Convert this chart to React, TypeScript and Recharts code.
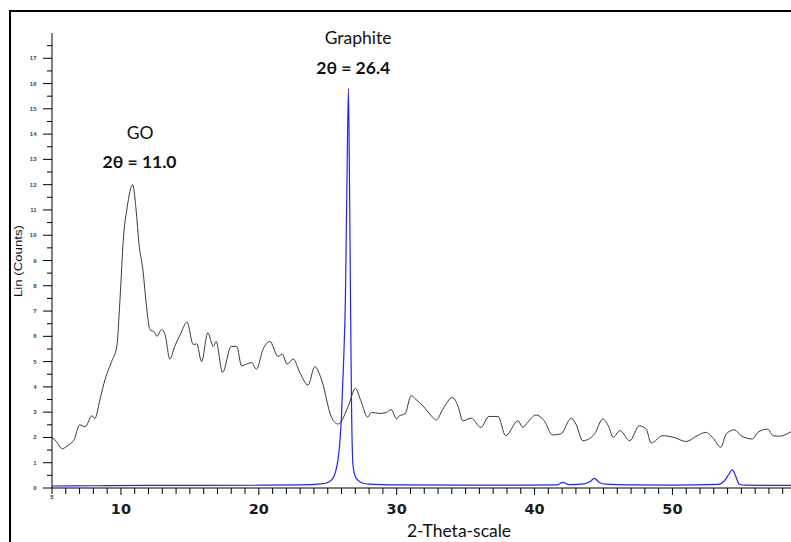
import React from 'react';
import { LineChart, Line, XAxis, YAxis, ReferenceDot } from 'recharts';

// GO sample (dark trace)
const goTheta = [
  5.0, 5.3, 5.75, 6.0, 6.3, 6.6, 7.0, 7.4, 7.9, 8.1, 8.5, 8.85, 9.3, 9.7, 9.93, 10.17, 10.45, 10.85,
  11.1, 11.3, 11.6, 11.85, 12.1, 12.46, 12.6, 12.95, 13.2, 13.55, 13.9, 14.3, 14.8, 15.24, 15.5,
  15.85, 16.3, 16.7, 16.9, 17.37, 18.0, 18.4, 18.75, 19.1, 19.47, 19.83, 20.3, 20.8, 21.4, 21.7,
  22.05, 22.5, 22.97, 23.57, 24.06, 24.54, 25.27, 25.75, 26.5, 27.0, 27.4, 27.9, 28.15, 28.8,
  29.25, 29.6, 30.0, 30.2, 30.6, 31.05, 31.4, 31.9, 32.4, 32.87, 33.35, 34.04, 34.44, 34.8, 35.4,
  36.1, 36.7, 37.35, 37.9, 38.8, 39.15, 39.5, 40.1, 40.7, 41.3, 41.9, 42.67, 43.0, 43.5, 44.35,
  44.95, 45.4, 45.7, 46.2, 46.9, 47.6, 48.1, 48.45, 49.3, 50.1, 51.0, 51.8, 52.4, 53.0, 53.5,
  53.9, 54.5, 54.98, 55.8, 56.2, 56.9, 57.3, 57.75, 58.6,
];
const goCounts = [
  2.0, 1.85, 1.55, 1.62, 1.74, 1.9, 2.5, 2.42, 2.86, 2.75, 3.55, 4.3, 4.97, 5.6, 7.45, 9.8, 11.1, 12.0,
  11.0, 9.7, 8.6, 7.2, 6.27, 6.15, 6.0, 6.27, 6.07, 5.1, 5.6, 6.07, 6.56, 5.68, 5.7,
  5.0, 6.14, 5.6, 5.8, 4.57, 5.6, 5.6, 4.83, 4.9, 4.96, 4.7, 5.48, 5.8, 5.2, 5.3,
  4.9, 5.1, 4.57, 4.07, 4.8, 4.3, 2.8, 2.53, 3.25, 3.94, 3.45, 2.8, 2.99, 2.95,
  2.99, 3.1, 2.73, 2.86, 2.93, 3.65, 3.5, 3.25, 2.93, 2.69, 3.12, 3.58, 3.25, 2.66, 2.76,
  2.4, 2.83, 2.83, 2.07, 2.66, 2.4, 2.6, 2.89, 2.66, 2.1, 2.14, 2.76, 2.53, 1.87, 2.14,
  2.73, 2.4, 2.0, 2.27, 1.87, 2.46, 2.33, 1.78, 2.07, 2.0, 1.84, 2.07, 2.2, 1.94, 1.61,
  2.14, 2.3, 2.07, 1.94, 2.2, 2.33, 2.07, 2.05, 2.23,
];

// Graphite sample (blue trace)
const graphiteTheta = [
  5, 8, 12, 16, 20, 23, 24.5, 25.0, 25.36, 25.75, 26.0, 26.15, 26.28, 26.38, 26.5, 26.58, 26.65,
  26.72, 26.83, 27.0, 27.2, 27.5, 28, 30, 35, 41.6, 42.05, 42.5, 43.6, 44.0, 44.35, 44.7, 45.2,
  47, 50, 53.3, 53.8, 54.1, 54.35, 54.6, 54.85, 55.3, 58.6,
];
const graphiteCounts = [
  0.08, 0.09, 0.1, 0.1, 0.11, 0.12, 0.16, 0.22, 0.37, 1.15, 2.9, 5.0, 7.5, 11.5, 15.8, 12, 7.5,
  3.5, 0.9, 0.45, 0.3, 0.2, 0.15, 0.12, 0.11, 0.12, 0.22, 0.13, 0.16, 0.25, 0.38, 0.22, 0.15,
  0.12, 0.11, 0.14, 0.3, 0.55, 0.72, 0.45, 0.15, 0.11, 0.1,
];

const xTicks = [
  5, 6, 7, 8, 9, 10, 11, 12, 13, 14, 15, 16, 17, 18, 19, 20, 21, 22, 23, 24, 25, 26, 27, 28, 29, 30,
  31, 32, 33, 34, 35, 36, 37, 38, 39, 40, 41, 42, 43, 44, 45, 46, 47, 48, 49, 50, 51, 52, 53, 54, 55,
  56, 57, 58,
];
const xLabels = [10, 20, 30, 40, 50];
const yTicks = [
  0, 0.5, 1, 1.5, 2, 2.5, 3, 3.5, 4, 4.5, 5, 5.5, 6, 6.5, 7, 7.5, 8, 8.5, 9, 9.5, 10, 10.5, 11, 11.5,
  12, 12.5, 13, 13.5, 14, 14.5, 15, 15.5, 16, 16.5, 17, 17.5,
];

const annotations = [
  { x: 11.4, y: 14.05, text: 'GO', bold: false },
  { x: 11.35, y: 12.9, text: '2θ = 11.0', bold: true },
  { x: 27.2, y: 17.8, text: 'Graphite', bold: false },
  { x: 26.85, y: 16.62, text: '2θ = 26.4', bold: true },
];

const goData = goTheta.map((x, i) => ({ x, v: goCounts[i] }));
const graphiteData = graphiteTheta.map((x, i) => ({ x, v: graphiteCounts[i] }));

const YTick = (props: any) => {
  const { x, y, payload } = props;
  const major = Number.isInteger(payload.value);
  return (
    <g>
      <line x1={major ? x : x + 4} x2={x + 9} y1={y} y2={y} stroke="#000" strokeWidth={1} />
      {major && (
        <text x={x - 6.5} y={y + 2} textAnchor="end" fontSize={6} fontWeight="bold" fill="#444" fontFamily="Arial">
          {payload.value}
        </text>
      )}
    </g>
  );
};

const XTick = (props: any) => {
  const { x, y, payload } = props;
  const v = payload.value;
  const big = xLabels.includes(v);
  return (
    <g>
      <line x1={x} x2={x} y1={y - 6} y2={big ? y + 1 : y} stroke="#000" strokeWidth={1} />
      {big && (
        <text x={x} y={y + 20} textAnchor="middle" fontSize={14.5} fontWeight="bold" fill="#1a1a1a" fontFamily="'DejaVu Sans'">
          {v}
        </text>
      )}
      {v === 5 && (
        <text x={x} y={y + 5} textAnchor="middle" fontSize={6} fontWeight="bold" fill="#333" fontFamily="Arial">
          5
        </text>
      )}
    </g>
  );
};

const App = () => {
  return (
    <div style={{ position: 'absolute', left: 0, top: 0, width: 791, height: 542, background: '#fff', overflow: 'hidden' }}>
      <div
        style={{
          position: 'absolute', left: 9, top: 10, width: 782, height: 532,
          borderTop: '2px solid #000', borderLeft: '2px solid #000', boxSizing: 'border-box',
        }}
      />
      <div style={{ position: 'absolute', left: 0, top: 0 }}>
        <LineChart width={791} height={542} margin={{ top: 33, right: 0, bottom: 0, left: 0 }}>
          <XAxis
            dataKey="x"
            type="number"
            domain={[5, 58.6]}
            ticks={xTicks}
            interval={0}
            allowDataOverflow
            height={54}
            tickSize={6}
            tickMargin={0}
            tickLine={false}
            tick={<XTick />}
            axisLine={{ stroke: '#000' }}
            label={() => (
              <text x={459} y={537} textAnchor="middle" fontSize={17.5} fill="#111" fontFamily="Lato">
                2-Theta-scale
              </text>
            )}
          />
          <YAxis
            type="number"
            domain={[0, 18]}
            ticks={yTicks}
            interval={0}
            allowDataOverflow
            width={52}
            tickSize={9}
            tickMargin={0}
            tickLine={false}
            tick={<YTick />}
            axisLine={{ stroke: '#000' }}
            label={() => (
              <text
                x={21.5}
                y={261}
                transform="rotate(-90 21.5 261)"
                textAnchor="middle"
                fontSize={11}
                textLength={72}
                lengthAdjust="spacingAndGlyphs"
                fill="#111"
                fontFamily="Arial"
              >
                Lin (Counts)
              </text>
            )}
          />
          <Line
            data={graphiteData}
            dataKey="v"
            type="monotone"
            stroke="#2222ff"
            strokeWidth={1.2}
            dot={false}
            isAnimationActive={false}
          />
          <Line
            data={goData}
            dataKey="v"
            type="monotone"
            stroke="#3a3a3a"
            strokeWidth={1}
            dot={false}
            isAnimationActive={false}
          />
          {annotations.map((a) => (
            <ReferenceDot
              key={a.text}
              x={a.x}
              y={a.y}
              r={0}
              stroke="none"
              fill="none"
              label={{
                value: a.text,
                position: 'center',
                fontSize: 17.5,
                fontWeight: a.bold ? 'bold' : 'normal',
                fill: '#111',
                fontFamily: 'Lato',
              }}
            />
          ))}
        </LineChart>
      </div>
    </div>
  );
};

export default App;
